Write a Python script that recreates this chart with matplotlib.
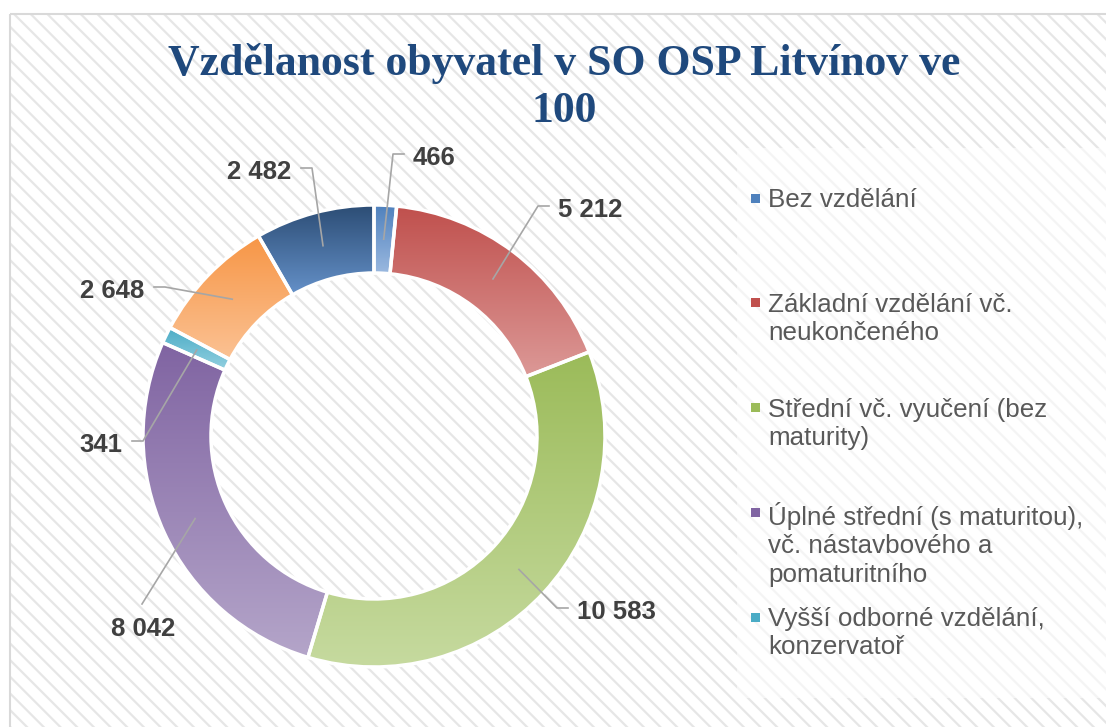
import numpy as np
import matplotlib.pyplot as plt
from matplotlib.colors import LinearSegmentedColormap
from matplotlib.patches import Rectangle

categories = ["Bez vzdělání",
              "Základní vzdělání vč.\nneukončeného",
              "Střední vč. vyučení (bez\nmaturity)",
              "Úplné střední (s maturitou),\nvč. nástavbového a\npomaturitního",
              "Vyšší odborné vzdělání,\nkonzervatoř",
              "Vysokoškolské",
              "Nezjištěno"]
values = [466, 5212, 10583, 8042, 341, 2648, 2482]
top_colors = ['#4f81bd', '#c0504d', '#9bbb59', '#8064a2', '#4bacc6', '#f79646', '#2c4d75']
bottom_colors = ['#9bb9e0', '#dc9997', '#c6da9f', '#b4a5c9', '#93d0e0', '#fbc294', '#6591c9']

# label elbow points (pixels) and side of the label
elbows = [(393, 154), (538, 206), (557, 608), (142, 604), (143, 441), (165, 287), (312, 168)]
sides = ['r', 'r', 'r', 'b', 'l', 'l', 'l']

W, H = 1106, 727
plt.rcParams['hatch.linewidth'] = 1.6
plt.rcParams['hatch.color'] = '#e6e6e6'
sans = 'Liberation Sans'

fig = plt.figure(figsize=(W / 100, H / 100), dpi=100)
ax = fig.add_axes([0, 0, 1, 1])

# hatched chart area + border
ax.add_patch(Rectangle((10, 14), W, H, facecolor='white', edgecolor='#e6e6e6',
                       hatch='\\\\', lw=0, zorder=0))
ax.add_patch(Rectangle((10, 14), W, H, fill=False, edgecolor='#d9d9d9', lw=1.5, zorder=1))

# donut
cx, cy, R, ring = 374, 436, 231, 68
wedges, _ = ax.pie(values, center=(cx, cy), radius=R, startangle=-90, counterclock=True,
                   wedgeprops=dict(width=ring, edgecolor='white', linewidth=2.5), frame=True)

grad = np.linspace(0, 1, 256).reshape(-1, 1)
for w, c0, c1 in zip(wedges, top_colors, bottom_colors):
    x0, y0, x1, y1 = w.get_path().get_extents().extents
    cmap = LinearSegmentedColormap.from_list('g', [c0, c1])
    im = ax.imshow(grad, cmap=cmap, extent=(x0, x1, y1, y0), origin='upper',
                   aspect='auto', zorder=2, interpolation='bilinear')
    im.set_clip_path(w)
    w.set_facecolor('none')
    w.set_zorder(3)

# data labels with leader lines
rm = R - ring / 2
for w, v, (ex, ey), side in zip(wedges, values, elbows, sides):
    t = np.deg2rad((w.theta1 + w.theta2) / 2)
    px, py = cx + rm * np.cos(t), cy + rm * np.sin(t)
    lab = f"{v:,}".replace(",", " ")
    kw = dict(fontsize=18.5, fontweight='bold', color='#404040', family=sans, zorder=5)
    if side == 'r':
        ax.plot([px, ex, ex + 11], [py, ey, ey], color='#a6a6a6', lw=1.2, zorder=4)
        ax.text(ex + 20, ey + 11, lab, ha='left', va='baseline', **kw)
    elif side == 'l':
        ax.plot([px, ex, ex - 11], [py, ey, ey], color='#a6a6a6', lw=1.2, zorder=4)
        ax.text(ex - 21, ey + 11, lab, ha='right', va='baseline', **kw)
    else:
        ax.plot([px, ex], [py, ey], color='#a6a6a6', lw=1.2, zorder=4)
        ax.text(ex + 1, ey + 32, lab, ha='center', va='baseline', **kw)

# legend (only the entries that fit in the box)
ax.add_patch(Rectangle((737, 148), 400, 550, facecolor='white', alpha=0.6, lw=0, zorder=1))
for i in range(5):
    y = 198 + i * 104.75
    ax.add_patch(Rectangle((751, y - 4.5), 9, 9, facecolor=top_colors[i], lw=0, zorder=5))
    ax.text(768, y - 10, categories[i], ha='left', va='top', fontsize=18.7,
            color='#595959', family=sans, zorder=5, linespacing=1.22)

# title
tkw = dict(ha='center', va='baseline', fontsize=31.5, fontweight='bold',
           family='Liberation Serif', color='#1f497d', zorder=5)
ax.text(564, 75, "Vzdělanost obyvatel v SO OSP Litvínov ve", **tkw)
ax.text(564, 122, "100", **tkw)

ax.set_xlim(0, W)
ax.set_ylim(H, 0)
ax.axis('off')
fig.savefig('out.png', dpi=100, facecolor='white')
